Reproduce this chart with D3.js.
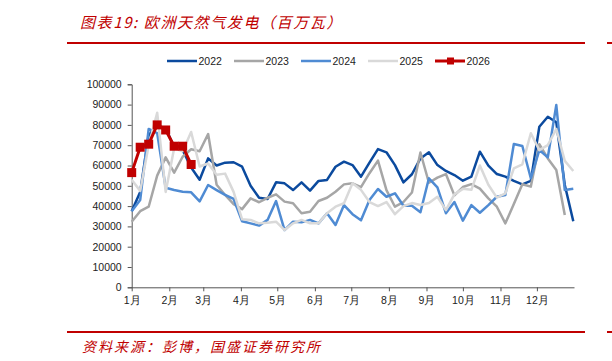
<!DOCTYPE html>
<meta charset="utf-8">
<style>
    body { margin: 0; background: #fff; }
    text { font-family: "Liberation Sans", Arial, sans-serif; }
    .cn { font-family: "Noto Sans CJK SC", sans-serif; }
</style>
<body>
<script src="https://d3js.org/d3.v7.min.js"></script>
<script>
    // weekly values, index 0 = first week of January
    const s2022 = [37500, 47000, 75000, 79500, 78500, 69000, 67500, 59000, 53000, 63500, 60000, 61400, 61600, 59400,
        50000, 44100, 43500, 51700, 51200, 47900, 51700, 47600, 52400, 52900, 59400, 61900, 60200, 54500, 61400, 68100,
        66500, 60200, 51700, 55700, 63500, 66500, 60200, 57300, 55300, 52500, 54500, 66800, 59900, 55800, 54500, 52400,
        50700, 52400, 79100, 84000, 81300, 50400, 32500];
    const s2023 = [32300, 37500, 39700, 55000, 64000, 56500, 64300, 68000, 67000, 75500, 50500, 45500, 41000, 38500,
        43800, 41900, 44100, 45800, 42200, 41400, 36500, 37200, 42500, 44100, 47100, 50700, 51200, 49300, 56200, 62400,
        47900, 39700, 42000, 46700, 66400, 51500, 54000, 55800, 45300, 49400, 50800, 48600, 43800, 39700, 31500, 41000,
        50800, 49600, 70500, 63500, 57800, 35600];
    const s2024 = [37500, 43000, 78000, 76000, 49000, 47900, 47100, 46800, 42300, 50400, 47900, 45500, 43500, 32500,
        31500, 30400, 33200, 42500, 28200, 32300, 32000, 33200, 31500, 36500, 30700, 40500, 36000, 33000, 43000, 48400,
        44600, 46300, 40200, 40200, 37000, 53700, 49200, 36500, 42000, 32800, 40500, 36700, 40500, 44600, 45500, 70600,
        69600, 53700, 67600, 64000, 89800, 47900, 48500];
    const s2025 = [53000, 47500, 70000, 86000, 47000, 68500, 67000, 76500, 59500, 61000, 55500, 56000, 47000, 33500,
        33200, 31500, 31800, 32300, 28200, 31500, 33200, 31500, 31500, 36500, 39700, 41400, 51200, 48000, 42000, 40000,
        42000, 36000, 40000, 41500, 40500, 41500, 44600, 38000, 45800, 48500, 48000, 60000, 50500, 44200, 46300, 58600,
        60600, 75900, 67600, 70000, 78000, 62300, 57300];
    const s2026 = [56500, 69000, 70500, 80000, 77500, 69500, 69500, 60500];

    const seriesNames = ["2022", "2023", "2024", "2025", "2026"];
    const seriesColors = ["#0b4a9e", "#a6a6a6", "#4f8bd3", "#d9d9d9", "#c00000"];
    const seriesData = [s2022, s2023, s2024, s2025, s2026];

    const monthLabels = ["1月", "2月", "3月", "4月", "5月", "6月", "7月", "8月", "9月", "10月", "11月", "12月"];
    const monthStartDays = [0, 31, 59, 90, 120, 151, 181, 212, 243, 273, 304, 334];
    const yTicks = [0, 10000, 20000, 30000, 40000, 50000, 60000, 70000, 80000, 90000, 100000];

    const W = 612, H = 361;
    const red = "#c00000";

    const svg = d3.select("body").append("svg")
        .attr("width", W)
        .attr("height", H);

    // title + rules
    svg.append("text")
        .attr("class", "cn")
        .attr("x", 80).attr("y", 28)
        .attr("fill", red)
        .attr("font-size", 15)
        .attr("font-style", "italic")
        .attr("letter-spacing", 1.6)
        .text("图表19: 欧洲天然气发电（百万瓦）");
    svg.append("rect").attr("x", 67).attr("y", 42).attr("width", 518).attr("height", 2).attr("fill", red);
    svg.append("rect").attr("x", 607).attr("y", 42).attr("width", 5).attr("height", 2).attr("fill", red);
    svg.append("rect").attr("x", 67).attr("y", 331).attr("width", 518).attr("height", 2).attr("fill", red);
    svg.append("rect").attr("x", 607).attr("y", 331).attr("width", 5).attr("height", 2).attr("fill", red);
    svg.append("text")
        .attr("class", "cn")
        .attr("x", 82).attr("y", 352)
        .attr("fill", red)
        .attr("font-size", 14)
        .attr("font-style", "italic")
        .attr("letter-spacing", 2)
        .text("资料来源：彭博，国盛证券研究所");

    // scales: x in day of year
    const x = d3.scaleLinear().domain([0, 365]).range([131.7, 574.5]);
    const y = d3.scaleLinear().domain([0, 100000]).range([287.3, 84.3]);

    const g = svg.append("g");

    // y axis
    const yAxis = g.append("g")
        .attr("transform", "translate(" + x(0) + ",0)")
        .call(d3.axisLeft(y).tickValues(yTicks).tickFormat(d3.format("d")).tickSize(4).tickPadding(6));
    yAxis.selectAll("text").attr("font-size", 10.5).attr("fill", "#222");

    // x axis
    const xAxis = g.append("g")
        .attr("transform", "translate(0," + y(0) + ")")
        .call(d3.axisBottom(x).tickValues(monthStartDays)
            .tickFormat((d, i) => monthLabels[i]).tickSize(4).tickPadding(5));
    xAxis.select(".domain").attr("d", "M" + x(0) + ",0.5H" + x(365));
    xAxis.selectAll("text").attr("font-size", 10.5).attr("fill", "#222")
        .attr("font-family", "'Liberation Sans', 'Noto Sans CJK SC', sans-serif");
    g.selectAll(".domain, .tick line").attr("stroke", "#555");

    // lines
    const line = d3.line()
        .x((d, i) => x(i * 7))
        .y(d => y(d));

    seriesData.forEach((data, k) => {
        g.append("path")
            .datum(data)
            .attr("fill", "none")
            .attr("stroke", seriesColors[k])
            .attr("stroke-width", k === 4 ? 3 : 2.5)
            .attr("stroke-linejoin", "round")
            .attr("d", line);
    });

    // markers for 2026
    g.selectAll(".mk")
        .data(s2026)
        .enter().append("rect")
        .attr("class", "mk")
        .attr("x", (d, i) => x(i * 7) - 4.5)
        .attr("y", d => y(d) - 4.5)
        .attr("width", 9).attr("height", 9)
        .attr("fill", red);

    // legend
    const leg = svg.append("g").attr("transform", "translate(167,61)");
    seriesNames.forEach((name, k) => {
        const it = leg.append("g").attr("transform", "translate(" + (k * 67) + ",0)");
        it.append("line").attr("x1", 0).attr("x2", 30).attr("y1", 0).attr("y2", 0)
            .attr("stroke", seriesColors[k]).attr("stroke-width", k === 4 ? 3 : 2.5);
        if (k === 4) {
            it.append("rect").attr("x", 12).attr("y", -3.5).attr("width", 7).attr("height", 7).attr("fill", red);
        }
        it.append("text").attr("x", 31.5).attr("y", 4).attr("font-size", 10.5).attr("fill", "#222").text(name);
    });
</script>
</body>
